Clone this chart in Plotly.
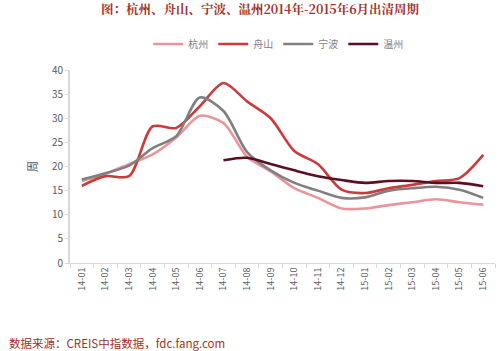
import plotly.graph_objects as go

months = ["14-01","14-02","14-03","14-04","14-05","14-06","14-07","14-08","14-09",
          "14-10","14-11","14-12","15-01","15-02","15-03","15-04","15-05","15-06"]
hangzhou = [17.0,18.5,20.5,22.5,26.0,30.5,29.0,22.0,19.0,15.5,13.5,11.3,11.3,12.0,12.6,13.2,12.6,12.1]
zhoushan = [16.0,18.0,18.0,28.3,28.0,32.5,37.3,33.5,30.0,23.2,20.5,15.2,14.5,15.5,16.2,17.0,17.6,22.4]
ningbo   = [17.3,18.6,20.2,23.8,26.3,34.3,31.5,23.0,19.2,16.6,15.0,13.5,13.6,15.0,15.5,15.8,15.2,13.5]
wenzhou  = [None,None,None,None,None,None,21.3,21.8,20.5,19.2,18.0,17.2,16.6,17.0,17.0,16.6,16.6,15.9]

series = [("杭州", hangzhou, "#E8959B"), ("舟山", zhoushan, "#CC3A3C"),
          ("宁波", ningbo, "#808080"), ("温州", wenzhou, "#5A0F23")]

fig = go.Figure()
for name, vals, col in series:
    fig.add_trace(go.Scatter(x=months, y=vals, name=name, mode="lines",
                             line=dict(color=col, width=2.6, shape="spline", smoothing=0.8),
                             connectgaps=False))

font = "Noto Sans CJK SC, DejaVu Sans, sans-serif"
fig.update_layout(
    width=500, height=351,
    margin=dict(l=70, r=5, t=70, b=88),
    paper_bgcolor="white", plot_bgcolor="white",
    font=dict(family=font, size=10, color="#595959"),
    title=dict(text="<b>图：杭州、舟山、宁波、温州2014年-2015年6月出清周期</b>",
               x=0.52, xanchor="center", y=0.985, yanchor="top",
               font=dict(size=12.5, color="#A0322A", family="Noto Serif CJK SC, Noto Sans CJK SC, serif")),
    legend=dict(orientation="h", x=0.49, xanchor="center", y=1.135, yanchor="middle",
                font=dict(size=10, color="#7F7F7F"), itemwidth=30,
                bgcolor="rgba(0,0,0,0)"),
    showlegend=True,
)
fig.update_xaxes(type="category", showline=True, linecolor="#D9D9D9", linewidth=1,
                 ticks="outside", tickcolor="#D9D9D9", ticklen=4, tickangle=-90,
                 tickfont=dict(size=9, color="#595959"), showgrid=False,
                 tickson="boundaries", range=[-0.5, 17.5])
fig.update_yaxes(range=[0, 40], dtick=5, showline=True, linecolor="#D9D9D9", linewidth=2,
                 ticks="outside", tickcolor="#D9D9D9", ticklen=3, showgrid=False,
                 tickfont=dict(size=10, color="#595959"), zeroline=False,
                 title=dict(text="周", standoff=12, font=dict(size=11, color="#595959")))
fig.add_annotation(text="数据来源：CREIS中指数据，fdc.fang.com", xref="paper", yref="paper",
                   x=-0.148, y=-0.415, xanchor="left", yanchor="middle", showarrow=False,
                   font=dict(size=11.5, color="#A0322A", family=font))
fig.write_html("out.html")
